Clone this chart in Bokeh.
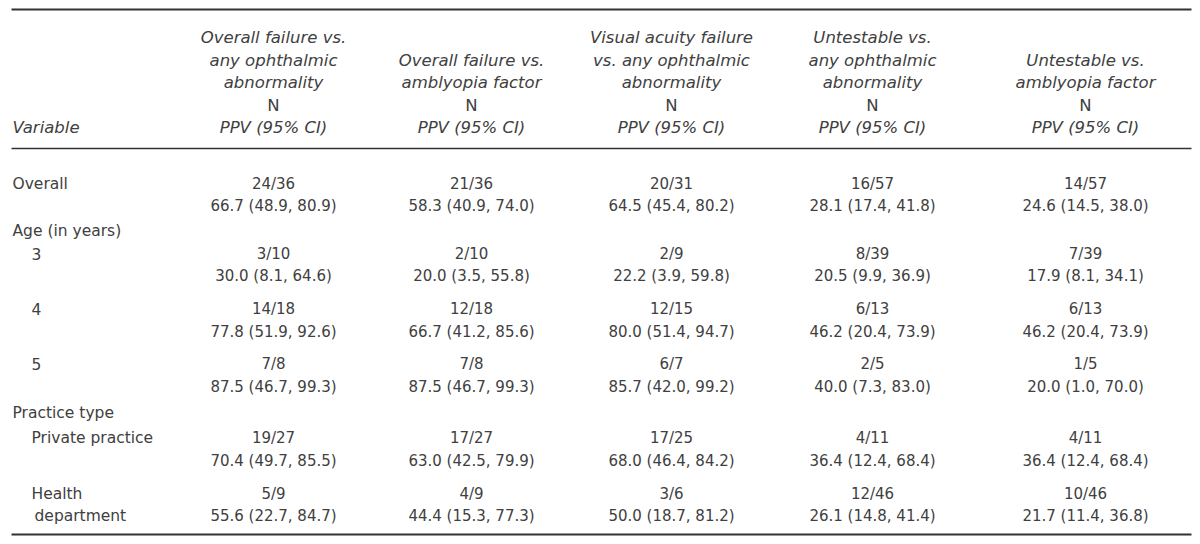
from bokeh.plotting import figure
from bokeh.models import ColumnDataSource, Range1d
from bokeh.core.properties import value
from bokeh.embed import file_html
from bokeh.resources import INLINE

# ---------------- data ----------------
header_var = "Variable"
col_titles = [
    ["Overall failure vs.", "any ophthalmic", "abnormality"],
    ["Overall failure vs.", "amblyopia factor"],
    ["Visual acuity failure", "vs. any ophthalmic", "abnormality"],
    ["Untestable vs.", "any ophthalmic", "abnormality"],
    ["Untestable vs.", "amblyopia factor"],
]
sub_n = "N"
sub_ppv = "PPV (95% CI)"

group_age = "Age (in years)"
group_practice = "Practice type"
row_labels = ["Overall", "3", "4", "5", "Private practice", ["Health", "department"]]

n_col1 = ["24/36", "3/10", "14/18", "7/8", "19/27", "5/9"]
ppv_col1 = [(66.7, 48.9, 80.9), (30.0, 8.1, 64.6), (77.8, 51.9, 92.6), (87.5, 46.7, 99.3), (70.4, 49.7, 85.5), (55.6, 22.7, 84.7)]
n_col2 = ["21/36", "2/10", "12/18", "7/8", "17/27", "4/9"]
ppv_col2 = [(58.3, 40.9, 74.0), (20.0, 3.5, 55.8), (66.7, 41.2, 85.6), (87.5, 46.7, 99.3), (63.0, 42.5, 79.9), (44.4, 15.3, 77.3)]
n_col3 = ["20/31", "2/9", "12/15", "6/7", "17/25", "3/6"]
ppv_col3 = [(64.5, 45.4, 80.2), (22.2, 3.9, 59.8), (80.0, 51.4, 94.7), (85.7, 42.0, 99.2), (68.0, 46.4, 84.2), (50.0, 18.7, 81.2)]
n_col4 = ["16/57", "8/39", "6/13", "2/5", "4/11", "12/46"]
ppv_col4 = [(28.1, 17.4, 41.8), (20.5, 9.9, 36.9), (46.2, 20.4, 73.9), (40.0, 7.3, 83.0), (36.4, 12.4, 68.4), (26.1, 14.8, 41.4)]
n_col5 = ["14/57", "7/39", "6/13", "1/5", "4/11", "10/46"]
ppv_col5 = [(24.6, 14.5, 38.0), (17.9, 8.1, 34.1), (46.2, 20.4, 73.9), (20.0, 1.0, 70.0), (36.4, 12.4, 68.4), (21.7, 11.4, 36.8)]

n_cols = [n_col1, n_col2, n_col3, n_col4, n_col5]
ppv_cols = [ppv_col1, ppv_col2, ppv_col3, ppv_col4, ppv_col5]

# ---------------- layout ----------------
FONT = "DejaVu Sans"
FS_HEAD = "16.5px"
FS_LABEL = "15.5px"
FS_DATA = "15px"
TXT = "#404040"
LINE = "#333333"

col_x = [273, 471, 671, 872, 1085]
x_left = 12
x_indent = 31
header_lines_y = [37, 59.5, 82, 104.5, 127]  # bottom aligned
row_n_y = [183, 253, 308, 363, 437, 493]
row_ppv_y = [205, 275, 331, 386, 460, 515]
age_y = 230
practice_y = 412

W, H = 1200, 544
p = figure(width=W, height=H, output_backend="svg", toolbar_location=None,
           x_range=Range1d(0, W), y_range=Range1d(H, 0),
           min_border=0, outline_line_color=None)
p.axis.visible = False
p.grid.visible = False
p.background_fill_color = "white"
p.border_fill_color = "white"

# rules
p.segment(x0=[11, 11, 11], y0=[9, 148, 534], x1=[1191, 1191, 1191], y1=[9, 148, 534],
          line_color=LINE, line_width=[2.2, 1.6, 2.2])

def add_text(xs, ys, texts, align, style, size):
    src = ColumnDataSource(dict(x=xs, y=ys, t=texts))
    p.text(x="x", y="y", text="t", source=src, text_align=align, text_baseline="middle",
           text_font=value(FONT), text_font_size=size, text_color=TXT, text_font_style=style)

# header
hx, hy, ht = [], [], []
nx, ny, nt = [], [], []
for cx, title in zip(col_x, col_titles):
    lines = title + [sub_n, sub_ppv]
    ys = header_lines_y[len(header_lines_y) - len(lines):]
    for ln, yy in zip(lines, ys):
        if ln == sub_n:
            nx.append(cx); ny.append(yy); nt.append(ln)
        else:
            hx.append(cx); hy.append(yy); ht.append(ln)
add_text(hx, hy, ht, "center", "italic", FS_HEAD)
add_text(nx, ny, nt, "center", "normal", FS_HEAD)
add_text([x_left], [header_lines_y[-1]], [header_var], "left", "italic", FS_HEAD)

# row labels
lx, ly, lt = [], [], []
lx += [x_left, x_left, x_left]; ly += [row_n_y[0], age_y, practice_y]
lt += [row_labels[0], group_age, group_practice]
for i in range(1, 6):
    lab = row_labels[i]
    if isinstance(lab, list):
        lx += [x_indent, x_indent + 3]; ly += [row_n_y[i], row_ppv_y[i]]; lt += lab
    else:
        lx.append(x_indent); ly.append(row_n_y[i]); lt.append(lab)
add_text(lx, ly, lt, "left", "normal", FS_LABEL)

# cells
cx_, cy_, ct_ = [], [], []
for cx, ncol, pcol in zip(col_x, n_cols, ppv_cols):
    for i in range(6):
        cx_.append(cx); cy_.append(row_n_y[i]); ct_.append(ncol[i])
        v, lo, hi = pcol[i]
        cx_.append(cx); cy_.append(row_ppv_y[i]); ct_.append(f"{v:.1f} ({lo:.1f}, {hi:.1f})")
add_text(cx_, cy_, ct_, "center", "normal", FS_DATA)

open("out.html", "w").write(file_html(p, INLINE))
